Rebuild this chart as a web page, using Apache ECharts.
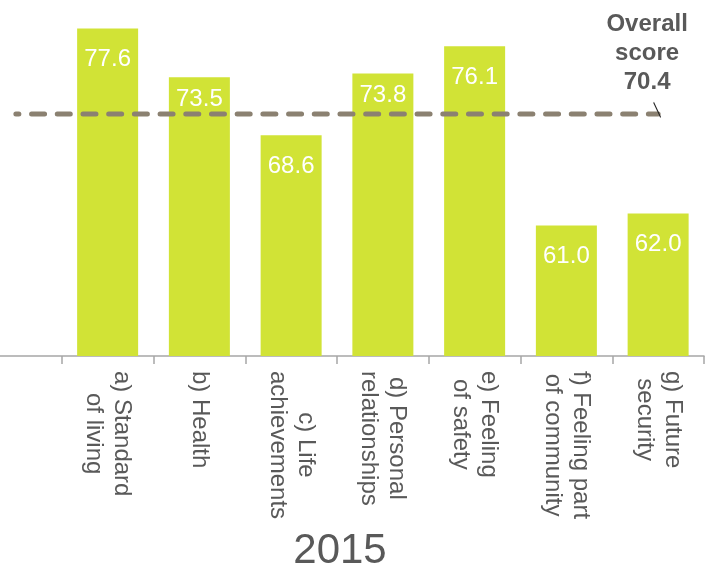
<!DOCTYPE html>
<html>
<head>
<meta charset="utf-8">
<script src="https://cdn.jsdelivr.net/npm/echarts@6/dist/echarts.min.js"></script>
<style>
  html, body { margin: 0; padding: 0; background: #fff; }
  #main { width: 713px; height: 571px; }
</style>
</head>
<body>
<div id="main"></div>
<script>
// categories and values
var categories = [
  'a) Standard\nof living',
  'b) Health',
  'c) Life\nachievements',
  'd) Personal\nrelationships',
  'e) Feeling\nof safety',
  'f) Feeling part\nof community',
  'g) Future\nsecurity'
];
var scores = [77.6, 73.5, 68.6, 73.8, 76.1, 61.0, 62.0];
var overallScore = 70.4;
var yearLabel = '2015';

var font = 'Liberation Sans, Arial, sans-serif';
var labelSize = 24;
var grey = '#595959';
var yMin = 50;

// an empty slot in front so the axis runs to the left edge
var axisData = [''].concat(categories);
var lineData = axisData.map(function () { return overallScore; });
// labels that would sit on the dashed line are pushed up a bit
var barData = [null].concat(scores.map(function (v) {
  var nearLine = v > overallScore && v - overallScore < 4;
  return { value: v, label: { distance: nearLine ? 10 : 19 } };
}));
var labelData = categories.map(function (c, i) { return [i + 1, yMin]; });

// widest line of each category label
var ctx = document.createElement('canvas').getContext('2d');
ctx.font = labelSize + 'px "Liberation Sans"';
function blockWidth(name) {
  var w = 0;
  name.split('\n').forEach(function (s) { w = Math.max(w, ctx.measureText(s).width); });
  return w;
}

var chart = echarts.init(document.getElementById('main'));

var option = {
  animation: false,
  textStyle: { fontFamily: font },
  title: {
    text: yearLabel,
    left: 340,
    top: 530,
    textAlign: 'center',
    padding: 0,
    textStyle: { fontSize: 42, fontWeight: 'normal', color: grey, fontFamily: font }
  },
  grid: {
    left: -30,
    right: 9,
    top: 0,
    bottom: 215,
    containLabel: false,
    outerBoundsMode: 'none'
  },
  xAxis: {
    type: 'category',
    data: axisData,
    axisLine: { show: true, lineStyle: { color: '#a6a6a6', width: 1.5 } },
    axisTick: { show: true, interval: 0, alignWithLabel: false, length: 8, lineStyle: { color: '#a6a6a6', width: 1.5 } },
    axisLabel: { show: false }
  },
  yAxis: {
    type: 'value',
    min: yMin,
    max: 80,
    show: false,
    splitLine: { show: false }
  },
  series: [{
    type: 'bar',
    data: barData,
    barWidth: 61,
    itemStyle: { color: '#d1e336' },
    label: {
      show: true,
      position: 'insideTop',
      color: '#ffffff',
      fontSize: labelSize,
      fontFamily: font,
      formatter: function (p) { return p.value.toFixed(1); }
    },
    z: 1
  }, {
    type: 'line',
    data: lineData,
    symbol: 'none',
    z: 3,
    lineStyle: {
      color: '#8b8171',
      width: 5,
      type: [13, 12.7],
      dashOffset: 10,
      cap: 'round'
    },
    markPoint: {
      symbol: 'path://M0,0L7,15',
      symbolSize: [7, 15],
      symbolOffset: [-1, -4],
      itemStyle: { color: 'transparent', borderColor: '#222', borderWidth: 1.3 },
      label: {
        show: true,
        position: 'inside',
        offset: [-10, -57],
        color: grey,
        fontSize: 24,
        fontWeight: 'bold',
        lineHeight: 29,
        align: 'center',
        fontFamily: font,
        formatter: function () { return 'Overall\nscore\n' + overallScore.toFixed(1); }
      },
      data: [{ coord: [axisData.length - 1, overallScore] }]
    }
  }, {
    // rotated category labels: block starts below the axis, lines centred
    type: 'custom',
    data: labelData,
    clip: false,
    silent: true,
    renderItem: function (params, api) {
      var name = categories[params.dataIndex];
      var p = api.coord([api.value(0), api.value(1)]);
      var w = blockWidth(name);
      return {
        type: 'text',
        x: p[0],
        y: p[1] + 15 + w / 2,
        rotation: -Math.PI / 2,
        style: {
          text: name,
          align: 'center',
          verticalAlign: 'middle',
          fontSize: labelSize,
          lineHeight: 28,
          fontFamily: font,
          fill: grey
        }
      };
    }
  }]
};

chart.setOption(option);
</script>
</body>
</html>
